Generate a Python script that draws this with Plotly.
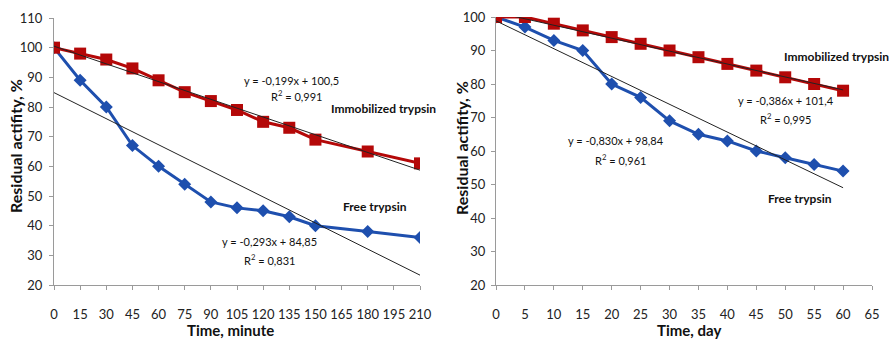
import plotly.graph_objects as go

# ---- data: left panel (minutes) ----
time_min = [0, 15, 30, 45, 60, 75, 90, 105, 120, 135, 150, 180, 210]
immob_min = [100, 98, 96, 93, 89, 85, 82, 79, 75, 73, 69, 65, 61]
free_min = [100, 89, 80, 67, 60, 54, 48, 46, 45, 43, 40, 38, 36]
trend_immob_min = (-0.199, 100.5)
trend_free_min = (-0.293, 84.85)
xticks_min = list(range(0, 211, 15))
yticks_min = list(range(20, 111, 10))

# ---- data: right panel (days) ----
time_day = [0, 5, 10, 15, 20, 25, 30, 35, 40, 45, 50, 55, 60]
immob_day = [100, 100, 98, 96, 94, 92, 90, 88, 86, 84, 82, 80, 78]
free_day = [100, 97, 93, 90, 80, 76, 69, 65, 63, 60, 58, 56, 54]
trend_immob_day = (-0.386, 101.4)
trend_free_day = (-0.830, 98.84)
xticks_day = list(range(0, 66, 5))
yticks_day = list(range(20, 101, 10))

W, H = 890, 340
RED = "#B40808"
BLUE = "#1E4FAE"
FONT = "Lato, Liberation Sans, sans-serif"

fig = go.Figure()

def add_panel(xs, immob, free, t_im, t_fr, xa, ya):
    fig.add_trace(go.Scatter(x=xs, y=free, mode="lines+markers", xaxis=xa, yaxis=ya,
                             line=dict(color=BLUE, width=3),
                             marker=dict(symbol="diamond", size=10, color=BLUE),
                             showlegend=False))
    fig.add_trace(go.Scatter(x=xs, y=immob, mode="lines+markers", xaxis=xa, yaxis=ya,
                             line=dict(color=RED, width=3),
                             marker=dict(symbol="square", size=12, color=RED),
                             showlegend=False))
    x0, x1 = xs[0], xs[-1]
    for m, b in (t_im, t_fr):
        fig.add_trace(go.Scatter(x=[x0, x1], y=[m * x0 + b, m * x1 + b], mode="lines",
                                 xaxis=xa, yaxis=ya, line=dict(color="#222222", width=1),
                                 showlegend=False, hoverinfo="skip"))

add_panel(time_min, immob_min, free_min, trend_immob_min, trend_free_min, "x", "y")
add_panel(time_day, immob_day, free_day, trend_immob_day, trend_free_day, "x2", "y2")

axcommon = dict(showgrid=False, zeroline=False, showline=True, linecolor="#9a9a9a",
                linewidth=1, ticks="outside", ticklen=4, tickcolor="#9a9a9a",
                automargin=False,
                tickfont=dict(family=FONT, size=13, color="#222222"))

fig.update_layout(
    width=W, height=H, margin=dict(l=0, r=0, t=0, b=0, pad=0), autosize=False,
    paper_bgcolor="white", plot_bgcolor="white",
    xaxis=dict(domain=[54 / W, 420 / W], range=[0, 210], tickvals=xticks_min,
               anchor="y", ticklabelstandoff=13, **axcommon),
    yaxis=dict(domain=[1 - 285 / H, 1 - 18 / H], range=[20, 110], tickvals=yticks_min,
               anchor="x", ticklabelstandoff=4, **axcommon),
    xaxis2=dict(domain=[496 / W, 872 / W], range=[0, 65], tickvals=xticks_day,
                anchor="y2", ticklabelstandoff=13, **axcommon),
    yaxis2=dict(domain=[1 - 285 / H, 1 - 17 / H], range=[20, 100], tickvals=yticks_day,
                anchor="x2", ticklabelstandoff=3, **axcommon),
)

def ann(text, px, py, size=11, bold=False, angle=0):
    fig.add_annotation(text=f"<b>{text}</b>" if bold else text,
                       x=px / W, y=1 - py / H, xref="paper", yref="paper",
                       xanchor="center", yanchor="middle",
                       showarrow=False, textangle=angle,
                       font=dict(family=FONT, size=size, color="#111111"))

# left panel texts
ann("y = -0,199x + 100,5", 291, 80)
ann("R<sup>2</sup> = 0,991", 296, 95)
ann("Immobilized trypsin", 383, 109, size=12, bold=True)
ann("Free trypsin", 375, 207, size=12, bold=True)
ann("y = -0,293x + 84,85", 269, 241)
ann("R<sup>2</sup> = 0,831", 269, 259)
ann("Time, minute", 230, 330, size=15, bold=True)
ann("Residual actifity, %", 15, 146, size=16, bold=True, angle=-90)

# right panel texts
ann("Immobilized trypsin", 836, 57, size=12, bold=True)
ann("y = -0,386x + 101,4", 786, 100)
ann("R<sup>2</sup> = 0,995", 785, 119)
ann("y = -0,830x + 98,84", 616, 140)
ann("R<sup>2</sup> = 0,961", 620, 159)
ann("Free trypsin", 800, 198, size=12, bold=True)
ann("Time, day", 689, 330, size=15, bold=True)
ann("Residual actifity, %", 461, 148, size=16, bold=True, angle=-90)

fig.write_html("out.html")
